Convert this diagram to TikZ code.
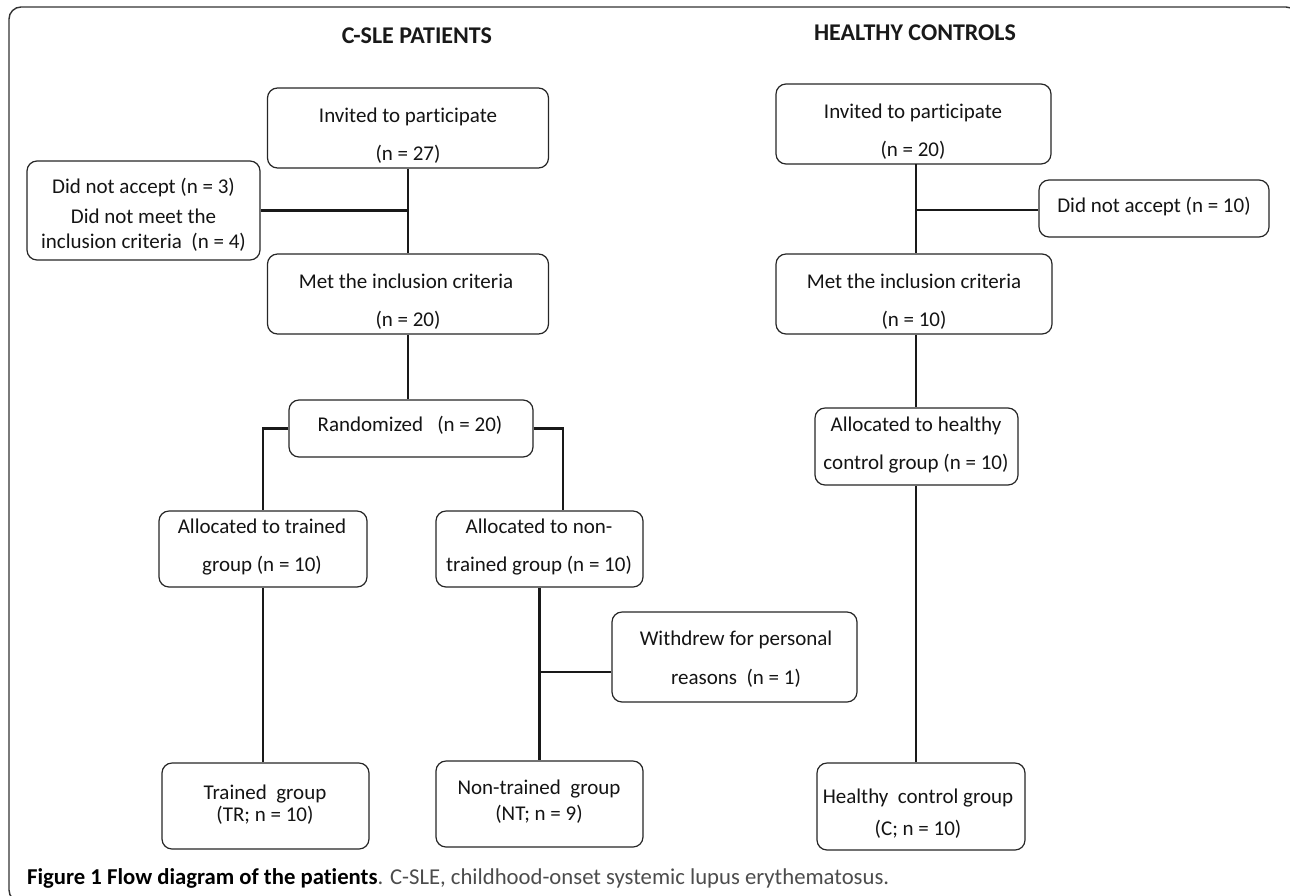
\documentclass[tikz,border=0pt]{standalone}
\usepackage{fontspec}
\setmainfont{Carlito}[Ligatures=CommonOff]
\begin{document}
\begin{tikzpicture}[x=1pt,y=1pt,
  bx/.style={draw=black!85, line width=1.2pt, rounded corners=10pt, inner sep=0pt, fill=white},
  tx/.style={anchor=base, inner sep=0pt, text=black!92, font=\fontsize{21}{25}\selectfont},
  ttl/.style={anchor=base, inner sep=0pt, text=black!90, font=\fontsize{24}{28}\selectfont\bfseries},
  conn/.style={draw=black!90, line width=2.6pt}]
\useasboundingbox (0,0) rectangle (1290,-895);
\clip (0,0) rectangle (1290,-895);
% outer frame
\draw[black!80, line width=1.4pt, rounded corners=12pt] (9,-7) rectangle (1298,-902);
% titles
\node[ttl] (t1) at (417,-43) {C-SLE PATIENTS};
\node[ttl] (t2) at (915,-40) {HEALTHY CONTROLS};
% ---------------- boxes (left) ----------------
\node[bx, minimum width=281pt, minimum height=80pt] (inv1) at (408,-128) {};
\node[bx, minimum width=233pt, minimum height=99pt] (dna1) at (143.5,-210.5) {};
\node[bx, minimum width=281pt, minimum height=80pt] (met1) at (408,-294) {};
\node[bx, minimum width=244pt, minimum height=57pt] (rand) at (411,-428.5) {};
\node[bx, minimum width=208pt, minimum height=76pt] (at) at (263,-549) {};
\node[bx, minimum width=207pt, minimum height=76pt] (ant) at (539.5,-549) {};
\node[bx, minimum width=245pt, minimum height=90pt] (wd) at (734.5,-657) {};
\node[bx, minimum width=207pt, minimum height=86pt] (tg) at (265.5,-806) {};
\node[bx, minimum width=207pt, minimum height=86pt] (nt) at (539.5,-804) {};
% ---------------- boxes (right) ----------------
\node[bx, minimum width=275pt, minimum height=80pt] (inv2) at (913.5,-124) {};
\node[bx, minimum width=230pt, minimum height=57pt] (dna2) at (1154,-208.5) {};
\node[bx, minimum width=276pt, minimum height=80pt] (met2) at (914,-294) {};
\node[bx, minimum width=203pt, minimum height=77pt] (ahc) at (916.5,-446.5) {};
\node[bx, minimum width=208pt, minimum height=87pt] (hcg) at (921,-806.5) {};
% ---------------- connectors ----------------
\draw[conn] (inv1.south) -- (met1.north);
\draw[conn] (dna1.east) -- (dna1.east -| inv1.south);
\draw[conn] (met1.south) -- (rand.north -| met1.south);
\draw[conn] (rand.west) -| (at.north);
\draw[conn] (rand.east) -| ([xshift=23.5pt]ant.north);
\draw[conn] (at.south) -- (tg.north -| at.south);
\draw[conn] (ant.south) -- (nt.north);
\coordinate (j3) at (539.5,-672);
\draw[conn] (j3) -- (j3 -| wd.west);
\coordinate (j1) at (916,-164);
\draw[conn] (j1) -- (j1 |- met2.north);
\coordinate (j2) at (916,-210);
\draw[conn] (j2) -- (j2 -| dna2.west);
\draw[conn] (met2.south -| j1) -- (ahc.north -| j1);
\draw[conn] (ahc.south -| j1) -- (hcg.north -| j1);
% ---------------- texts ----------------
\node[tx] (inv1a) at (408,-122) {Invited to participate};
\node[tx] (inv1b) at (408,-160) {(n = 27)};
\node[tx] (dna1a) at (143.5,-193) {Did not accept (n = 3)};
\node[tx] (dna1b) at (143.5,-223) {Did not meet the};
\node[tx] (dna1c) at (143.5,-248) {inclusion criteria\ \ (n = 4)};
\node[tx] (met1a) at (406,-288) {Met the inclusion criteria};
\node[tx] (met1b) at (408,-326) {(n = 20)};
\node[tx] (randa) at (410,-431) {Randomized\ \ \ (n = 20)};
\node[tx] (ata) at (262,-533) {Allocated to trained};
\node[tx] (atb) at (262,-571) {group (n = 10)};
\node[tx] (anta) at (539,-533) {Allocated to non-};
\node[tx] (antb) at (539,-571) {trained group (n = 10)};
\node[tx] (wda) at (736,-645) {Withdrew for personal};
\node[tx] (wdb) at (736,-684) {reasons\ \ (n = 1)};
\node[tx] (tga) at (265,-799) {Trained\ \ group};
\node[tx] (tgb) at (265,-821) {(TR; n = 10)};
\node[tx] (nta) at (539,-794) {Non-trained\ \ group};
\node[tx] (ntb) at (539,-820) {(NT; n = 9)};
\node[tx] (inv2a) at (913,-118) {Invited to participate};
\node[tx] (inv2b) at (913,-156) {(n = 20)};
\node[tx] (dna2a) at (1154,-212) {Did not accept (n = 10)};
\node[tx] (met2a) at (914,-288) {Met the inclusion criteria};
\node[tx] (met2b) at (914,-326) {(n = 10)};
\node[tx] (ahca) at (916,-431) {Allocated to healthy};
\node[tx] (ahcb) at (916,-469) {control group (n = 10)};
\node[tx] (hcga) at (918,-803) {Healthy\ \ control group};
\node[tx] (hcgb) at (918,-835) {(C; n = 10)};
% caption
\node[anchor=base west, inner sep=0pt, font=\fontsize{22.7}{27}\selectfont] (cap) at (27,-884)
  {\textbf{Figure 1 Flow diagram of the patients}\textcolor{black!70}{. C-SLE, childhood-onset systemic lupus erythematosus.}};
\end{tikzpicture}
\end{document}
